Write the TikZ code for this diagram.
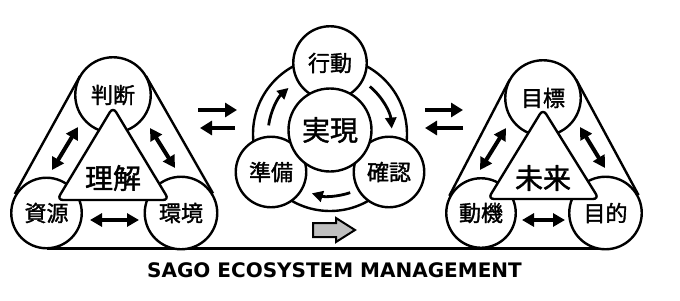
\documentclass[tikz,border=0pt]{standalone}
\usepackage{fontspec}
\newfontfamily\jpfont[FakeBold=1.5]{Noto Sans CJK JP}
\newfontfamily\ttlfont{DejaVu Sans}
\usetikzlibrary{arrows.meta,calc}
\begin{document}
\begin{tikzpicture}[x=1pt,y=-1pt,line join=round,
  lw/.style={line width=2.4pt},
  sc/.style={circle, draw, lw, fill=white, inner sep=0pt, font=\jpfont\fontsize{22}{22}\selectfont},
  bigtxt/.style={font=\jpfont\fontsize{28}{28}\selectfont, inner sep=0pt},
  tri/.style={draw, lw, fill=white, rounded corners=6pt},
  dbl/.style={line width=4pt, {Triangle[length=12pt,width=13pt]}-{Triangle[length=12pt,width=13pt]}},
  sgl/.style={line width=4.5pt, -{Triangle[length=12pt,width=14pt]}},
  ringarr/.style={line width=2.8pt, -{Triangle[length=11pt,width=11pt]}},
  grayarr/.style={line width=2pt, fill=black!25, draw=black, line join=miter},
]
\useasboundingbox (0,0) rectangle (680,300);
\fill[white] (0,0) rectangle (680,300);

% ---------- base line ----------
\coordinate (b1) at (46.5,248.5);
\coordinate (b2) at (605.5,248.5);
\draw[line width=3pt] (b1) -- (b2);

% ---------- left group ----------
\coordinate (lh1) at (14.8,194);
\coordinate (lh2) at (80,76);
\coordinate (lh3) at (146,76);
\coordinate (lh4) at (213,193.4);
\draw[lw] (lh1) -- (lh2);
\draw[lw] (lh3) -- (lh4);
\node[sc, minimum size=75.5pt] (pd) at (113,95) {判断};
\node[sc, minimum size=70.5pt] (zy) at (46.5,213) {資源};
\node[sc, minimum size=72.5pt] (kk) at (181,213) {環境};
\draw[tri] (113,107) -- (57,200) -- (169,200) -- cycle;
\node[bigtxt] (lj) at (113,178) {理解};
\coordinate (la1) at (78,127); \coordinate (la2) at (52,170);
\coordinate (la3) at (150,128); \coordinate (la4) at (175,168);
\coordinate (la5) at (90,220); \coordinate (la6) at (139,220);
\draw[dbl] (la1) -- (la2);
\draw[dbl] (la3) -- (la4);
\draw[dbl] (la5) -- (la6);

% ---------- arrows between groups ----------
\coordinate (m1) at (198,110); \coordinate (m2) at (237,110);
\coordinate (m3) at (235,128); \coordinate (m4) at (200,128);
\draw[sgl] (m1) -- (m2);
\draw[sgl] (m3) -- (m4);
\coordinate (n1) at (425,110); \coordinate (n2) at (463,110);
\coordinate (n3) at (463,128); \coordinate (n4) at (425,128);
\draw[sgl] (n1) -- (n2);
\draw[sgl] (n3) -- (n4);

% ---------- middle group ----------
\coordinate (rc) at (330,134);
\draw[lw] (rc) circle[radius=77pt];
\node[sc, minimum size=73.5pt] (xd) at (330,63) {行動};
\node[sc, minimum size=70.5pt] (zb) at (271,172) {準備};
\node[sc, minimum size=70.5pt] (qr) at (389,172) {確認};
\node[sc, minimum size=83pt, font=\jpfont\fontsize{28}{28}\selectfont] (sx) at (330,130) {実現};
\draw[ringarr] ([shift={(172:62pt)}]rc) arc[start angle=172,end angle=132,radius=62pt];
\draw[ringarr] ([shift={(50:62pt)}]rc) arc[start angle=50,end angle=5,radius=62pt];
\draw[ringarr] ([shift={(-71:62pt)}]rc) arc[start angle=-71,end angle=-107,radius=62pt];
\draw[grayarr] (313,223) -- (336,223) -- (336,218) -- (355,230) -- (336,242) -- (336,237) -- (313,237) -- cycle;

% ---------- right group ----------
\coordinate (rh1) at (449.3,195.9);
\coordinate (rh2) at (509.5,80);
\coordinate (rh3) at (576.4,79.9);
\coordinate (rh4) at (638.5,195.1);
\draw[lw] (rh1) -- (rh2);
\draw[lw] (rh3) -- (rh4);
\node[sc, minimum size=75.5pt] (mh) at (543,98) {目標};
\node[sc, minimum size=69.5pt] (dk) at (481,213) {動機};
\node[sc, minimum size=72.5pt] (mt) at (605.5,213) {目的};
\draw[tri] (543,109) -- (488,199) -- (599,199) -- cycle;
\node[bigtxt] (mr) at (543,178) {未来};
\coordinate (ra1) at (506,128); \coordinate (ra2) at (480,170);
\coordinate (ra3) at (580,127); \coordinate (ra4) at (605,168);
\coordinate (ra5) at (522,220); \coordinate (ra6) at (565,220);
\draw[dbl] (ra1) -- (ra2);
\draw[dbl] (ra3) -- (ra4);
\draw[dbl] (ra5) -- (ra6);

% ---------- title ----------
\node[font=\ttlfont\bfseries\fontsize{20}{20}\selectfont, anchor=base, inner sep=0pt] (title) at (334.5,277) {SAGO ECOSYSTEM MANAGEMENT};
\end{tikzpicture}
\end{document}
